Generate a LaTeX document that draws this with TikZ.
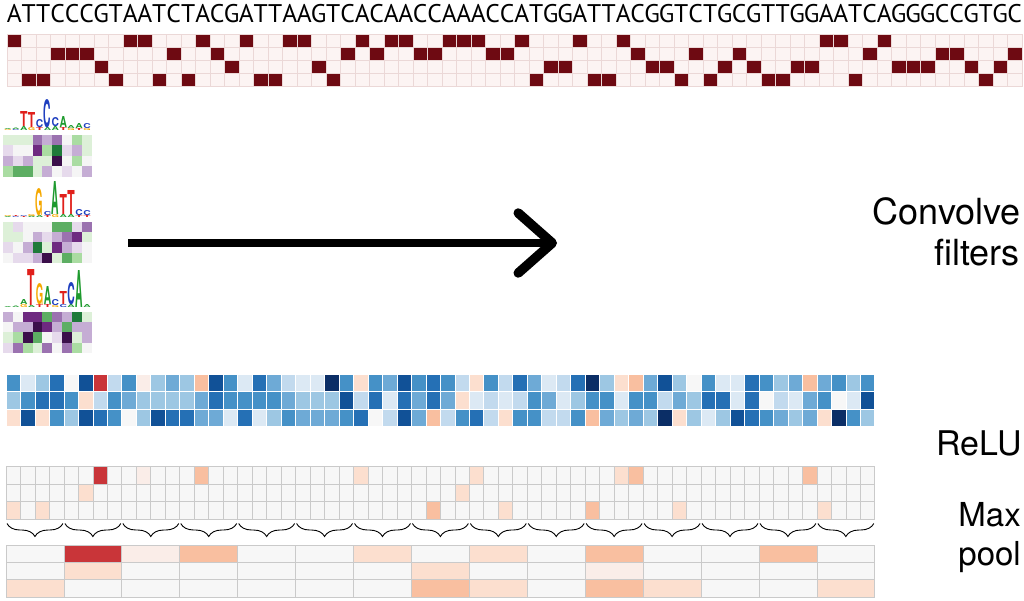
\documentclass[tikz,border=0pt]{standalone}
\usepackage{fontspec}
\usepackage{graphicx}
\setmainfont{TeX Gyre Heros}
\newfontfamily\seqfont{PT Sans}
\usetikzlibrary{arrows.meta,decorations.pathreplacing}

\definecolor{hotdark}{HTML}{6E0A12}
\definecolor{hotlight}{HTML}{FCF4F3}
\definecolor{hotline}{HTML}{EBD8D7}
\definecolor{reluline}{HTML}{CACACA}
% conv output, RdBu
\definecolor{hm0}{HTML}{F7F7F7}
\definecolor{hm1}{HTML}{DCE9F4}
\definecolor{hm2}{HTML}{C2DAEE}
\definecolor{hm3}{HTML}{9DC7E3}
\definecolor{hm4}{HTML}{6EAAD6}
\definecolor{hm5}{HTML}{4591C7}
\definecolor{hm6}{HTML}{2570B5}
\definecolor{hm7}{HTML}{115197}
\definecolor{hm8}{HTML}{0B2E66}
\definecolor{hmz}{HTML}{FAEDE8}
\definecolor{hma}{HTML}{FCDFCF}
\definecolor{hmb}{HTML}{F9BFA0}
\definecolor{hmc}{HTML}{C93539}
% after ReLU everything negative is zero
\colorlet{rl0}{hm0}\colorlet{rl1}{hm0}\colorlet{rl2}{hm0}
\colorlet{rl3}{hm0}\colorlet{rl4}{hm0}\colorlet{rl5}{hm0}
\colorlet{rl6}{hm0}\colorlet{rl7}{hm0}\colorlet{rl8}{hm0}
\colorlet{rlz}{hmz}\colorlet{rla}{hma}\colorlet{rlb}{hmb}\colorlet{rlc}{hmc}
% filters, PRGn
\definecolor{fcp4}{HTML}{3B0F4A}
\definecolor{fcp3}{HTML}{6E2A80}
\definecolor{fcp2}{HTML}{9B72B0}
\definecolor{fcp1}{HTML}{C5ADD4}
\definecolor{fcp0}{HTML}{E6DAEC}
\definecolor{fcw}{HTML}{F5F5F5}
\definecolor{fcg0}{HTML}{DDF0D8}
\definecolor{fcg1}{HTML}{AADCA2}
\definecolor{fcg2}{HTML}{5DAE63}
\definecolor{fcg3}{HTML}{1F7A3A}
\definecolor{logoA}{HTML}{1E9A2E}
\definecolor{logoC}{HTML}{1F3FBF}
\definecolor{logoG}{HTML}{F5A800}
\definecolor{logoT}{HTML}{E0201B}

\def\rowA{0}\def\rowC{1}\def\rowG{2}\def\rowT{3}

\newcommand{\heatrow}[7]{%
  \edef\heatlist{#7}
  \foreach \c [count=\i] in \heatlist {
    \path[#1,fill=#2\c] ({#3+(\i-1)*#5},#4) rectangle +(#5,#6);
  }%
}

\newcommand{\logocol}[4]{%
  \xdef\logobase{#3}
  \foreach \l/\h [count=\k] in #4 {
    \node[logoletter,text=logo\l] (#1\k) at ({#2},\logobase) {\resizebox{7.4pt}{\h pt}{\l}};
    \pgfmathsetmacro\nextbase{\logobase-\h}
    \xdef\logobase{\nextbase}
  }%
}

\begin{document}
\begin{tikzpicture}[x=1pt,y=-1pt]
\tikzstyle{seqletter}=[inner sep=0pt,anchor=base,font=\seqfont\fontsize{25.5}{30}\selectfont]
\tikzstyle{hotcell}=[draw=hotline,line width=0.6pt]
\tikzstyle{convcell}=[draw=white,line width=0.7pt]
\tikzstyle{relucell}=[draw=reluline,line width=0.7pt]
\tikzstyle{filtcell}=[draw=none]
\tikzstyle{stagelabel}=[inner sep=0pt,anchor=base east,font=\fontsize{33}{40}\selectfont]
\tikzstyle{logoletter}=[inner sep=0pt,anchor=south,font=\bfseries]
\tikzstyle{poolbrace}=[decorate,decoration={brace,mirror,amplitude=13pt},line width=0.9pt]
\tikzstyle{convarrow}=[line width=8.5pt,-{Straight Barb[length=34pt,width=60pt,line width=9.5pt,round]}]

\useasboundingbox (0,0) rectangle (1024,600);

% sequence and one-hot encoding
\foreach \b [count=\i] in {A,T,T,C,C,C,G,T,A,A,T,C,T,A,C,G,A,T,T,A,A,G,T,C,A,C,A,A,C,C,
  A,A,A,C,C,A,T,G,G,A,T,T,A,C,G,G,T,C,T,G,C,G,T,T,G,G,A,A,T,C,A,G,G,G,C,C,G,T,G,C} {
  \node[seqletter] (s\i) at ({7+(\i-0.5)*14.5},22) {\b};
  \foreach \r in {0,...,3}
    \path[hotcell,fill=hotlight] ({7+(\i-1)*14.5},{34.3+\r*13.1}) rectangle +(14.5,13.1);
  \edef\rowi{\csname row\b\endcsname}
  \path[hotcell,fill=hotdark] ({7+(\i-1)*14.5},{34.3+\rowi*13.1}) rectangle +(14.5,13.1);
}

% filters: logo above each weight matrix
\foreach \lg/\base/\cols in {
  la/131/{{G/1,A/1},{C/1,A/1.5},{A/4,T/15},{G/3,T/15},{T/3,C/8},{A/3,C/28},{A/4,C/9},{T/3,A/11},{G/2,A/3},{T/2,A/5},{G/2,C/5}},
  lb/218/{{A/1,G/1},{C/1,T/1},{T/1,C/1},{A/1.5,G/2},{A/2,G/27},{T/2,C/4},{G/3,A/33},{A/3,T/20},{A/3,T/24},{T/2,C/6},{T/2,C/5}},
  lc/308/{{A/1},{A/1.5},{G/3,A/5},{A/2,T/36},{T/3,G/21},{T/3,A/18},{G/2,C/6},{C/3,T/13},{A/3,C/22},{A/37},{A/3}}} {
  \foreach \col [count=\j] in \cols {
    \pgfmathsetmacro\colx{4+(\j-0.5)*7.9}
    \logocol{\lg\j}{\colx}{\base}{\col}
  }
}
\heatrow{filtcell}{fc}{3}{135}{9.85}{10.4}{g0,g0,g0,p2,p1,p2,w,g1,g0}
\heatrow{filtcell}{fc}{3}{145.4}{9.85}{10.4}{p0,w,w,p3,g1,g3,p0,p1,g0}
\heatrow{filtcell}{fc}{3}{155.8}{9.85}{10.4}{p1,p0,p1,g0,g0,p4,w,g1,w}
\heatrow{filtcell}{fc}{3}{166.2}{9.85}{10.4}{g1,g2,g2,g0,p1,w,p0,w,p1}

\heatrow{filtcell}{fc}{3}{221.5}{9.85}{10.4}{g0,p0,w,w,w,g2,g2,p0,p2}
\heatrow{filtcell}{fc}{3}{231.9}{9.85}{10.4}{g0,g0,w,p1,p0,p1,p2,p3,g0}
\heatrow{filtcell}{fc}{3}{242.3}{9.85}{10.4}{p0,w,p1,g3,g0,p3,p1,p0,w}
\heatrow{filtcell}{fc}{3}{252.7}{9.85}{10.4}{w,p0,p0,p1,p4,g0,g2,g1,w}

\heatrow{filtcell}{fc}{3}{311.5}{9.85}{10.4}{p1,w,p3,p3,g2,p2,p1,g3,g0}
\heatrow{filtcell}{fc}{3}{321.9}{9.85}{10.4}{w,p1,p1,p4,p3,p1,g2,p1,p1}
\heatrow{filtcell}{fc}{3}{332.3}{9.85}{10.4}{g0,g1,p4,g2,w,p0,p4,g0,p1}
\heatrow{filtcell}{fc}{3}{342.7}{9.85}{10.4}{p0,p2,g1,g0,p2,w,p2,g1,w}

\coordinate (arrowtail) at (128,243);
\coordinate (arrowtip) at (557,243);
\draw[convarrow] (arrowtail) -- (arrowtip);

% convolution output
\def\convA{5,1,3,6,0,7,c,2,5,z,3,4,3,b,7,5,1,6,4,2,1,1,8,5,a,5,4,7,5,6,5,2,a,5,2,6,4,1,2,6,8,3,a,b,4,7,3,0,5,1,1,6,5,3,4,b,4,5,3,5}
\def\convB{3,5,6,6,5,a,2,5,4,3,3,3,3,4,6,5,5,5,5,4,3,3,3,7,2,6,1,6,4,6,4,a,1,2,1,2,5,4,1,3,5,5,1,5,5,2,4,3,6,6,1,6,0,2,1,4,5,0,1,7}
\def\convC{a,7,a,5,3,7,6,5,0,3,7,6,6,4,4,1,6,1,3,5,4,4,4,5,6,0,2,7,4,b,2,5,6,2,a,5,5,2,2,5,b,4,3,4,3,8,a,3,1,3,7,6,5,4,3,4,a,8,5,3}
\heatrow{convcell}{hm}{6}{374.3}{14.48}{17.45}{\convA}
\heatrow{convcell}{hm}{6}{391.75}{14.48}{17.45}{\convB}
\heatrow{convcell}{hm}{6}{409.2}{14.48}{17.45}{\convC}

% relu
\heatrow{relucell}{rl}{6}{466.7}{14.48}{17.45}{\convA}
\heatrow{relucell}{rl}{6}{484.15}{14.48}{17.45}{\convB}
\heatrow{relucell}{rl}{6}{501.6}{14.48}{17.45}{\convC}

\foreach \g in {1,...,15}
  \draw[poolbrace] ({6+(\g-1)*57.92+1},523.5) -- ({6+\g*57.92-1},523.5);

% max pool
\heatrow{relucell}{rl}{6}{545}{57.92}{17.4}{0,c,z,b,0,0,a,0,a,0,b,0,0,b,0}
\heatrow{relucell}{rl}{6}{562.4}{57.92}{17.4}{0,a,0,0,0,0,0,a,0,0,z,0,0,0,0}
\heatrow{relucell}{rl}{6}{579.8}{57.92}{17.4}{a,0,0,0,0,0,0,b,a,0,b,a,0,0,a}

\node[stagelabel,font=\fontsize{36}{43}\selectfont] (convolve) at (1021,224) {Convolve};
\node[stagelabel,font=\fontsize{36}{43}\selectfont] (filters) at (1020,265) {filters};
\node[stagelabel,font=\fontsize{34}{41}\selectfont] (relu) at (1022,455) {ReLU};
\node[stagelabel] (max) at (1021,526.5) {Max};
\node[stagelabel] (pool) at (1021,565) {pool};
\end{tikzpicture}
\end{document}
